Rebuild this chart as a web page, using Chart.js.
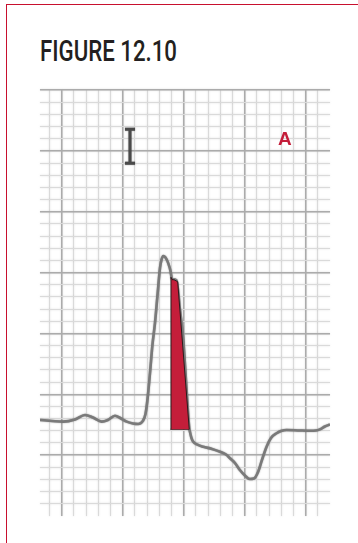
<!DOCTYPE html>
<html>
<head>
<meta charset="utf-8">
<script src="https://cdn.jsdelivr.net/npm/chart.js@4.4.1/dist/chart.umd.min.js"></script>
<style>
html, body { margin: 0; padding: 0; background: #fff; width: 358px; height: 543px; overflow: hidden; }
#frame { position: absolute; left: 6px; top: 4px; width: 360px; height: 560px; border-top: 1.5px solid #c8102e; border-left: 1.5px solid #c8102e; }
#title { position: absolute; left: 40px; top: 36px; font-family: Roboto, "Liberation Sans", sans-serif; font-weight: 500; font-size: 30px; line-height: 30px; color: #231f20; white-space: nowrap; transform-origin: left top; }
#wrap { position: absolute; left: 0; top: 0; width: 358px; height: 543px; }
</style>
</head>
<body>
<div id="frame"></div>
<div id="title"><span id="titleText">FIGURE 12.10</span></div>
<div id="wrap"><canvas id="ecg"></canvas></div>
<script>
// 단위: mm (작은 칸 = 1mm, 큰 칸 = 5mm)
let xMin = -1.78;
let xMax = 22.0;
let yMin = 0;
let yMax = 35;

// ECG 파형 (x, y)
let traceX = [-1.78, -0.80, 0.13, 1.09, 1.91, 2.57, 3.28, 3.79, 4.37, 4.86, 5.33, 5.84, 6.28, 6.66, 6.87, 7.03, 7.24, 7.44, 7.65, 7.85, 8.06, 8.18, 8.33, 8.51, 8.74, 8.92, 9.02, 9.10, 9.20, 9.42, 9.70, 9.97, 10.19, 10.46, 10.52, 10.64, 10.79, 11.09, 11.61, 12.32, 12.98, 13.47, 13.80, 14.21, 14.61, 15.02, 15.43, 15.76, 16.11, 16.42, 16.80, 17.16, 17.62, 17.98, 18.44, 19.53, 20.35, 20.84, 21.17, 21.58, 22.0];
let traceY = [7.89, 7.81, 7.75, 7.93, 8.30, 8.09, 7.75, 7.89, 8.24, 8.01, 7.75, 7.60, 7.56, 7.81, 8.38, 9.53, 11.75, 14.05, 15.86, 18.08, 20.38, 21.04, 21.36, 21.24, 20.76, 20.13, 19.53, 19.39, 19.44, 19.35, 16.93, 14.46, 11.18, 7.21, 6.90, 6.41, 6.10, 5.88, 5.69, 5.51, 5.28, 5.05, 4.74, 4.35, 3.78, 3.33, 3.04, 3.08, 3.64, 4.60, 5.69, 6.41, 6.80, 6.98, 7.07, 7.03, 7.01, 7.03, 7.12, 7.35, 7.52];

// 빨간 영역 (하강 구간) - 윗변, 아랫변
let areaX = [8.93, 8.96, 9.10, 9.20, 9.51, 10.46];
let areaY = [7.12, 19.61, 19.39, 19.42, 19.25, 7.12];
let areaBase = 7.12;
let areaBottomX = [8.93, 10.46];
let areaBottomY = [7.12, 7.12];

// 보정 표시 (I 모양)
let calX = [5.19, 6.01, null, 5.60, 5.60, null, 5.19, 6.01];
let calY = [31.78, 31.78, null, 31.78, 28.98, null, 28.98, 28.98];

// 라벨
let labelText = "A";
let labelX = 18.30;
let labelY = 30.48;

function toPoints(xs, ys) {
    let pts = [];
    for (let i = 0; i < xs.length; i++) {
        pts.push({ x: xs[i] === null ? NaN : xs[i], y: ys[i] });
    }
    return pts;
}

// 제목 폭 맞추기
let t = document.getElementById("titleText");
let w = t.getBoundingClientRect().width;
document.getElementById("title").style.transform = "scaleX(" + (137 / w) + ")";

function soft(ctx, color, blur) {
    ctx.shadowColor = color;
    ctx.shadowBlur = blur;
    ctx.shadowOffsetX = 0;
    ctx.shadowOffsetY = 0;
}

let softPlugin = {
    id: "soft",
    beforeDraw(chart) { soft(chart.ctx, "rgba(180,180,180,0.6)", 1.5); },
    beforeDatasetsDraw(chart) { soft(chart.ctx, "rgba(0,0,0,0)", 0); },
    beforeDatasetDraw(chart, args) {
        if (args.meta.index === 2) soft(chart.ctx, "rgba(100,100,100,0.7)", 1.5);
        else if (args.meta.index === 3) soft(chart.ctx, "rgba(60,60,60,0.6)", 1.5);
        else soft(chart.ctx, "rgba(0,0,0,0)", 0);
    },
    afterDatasetDraw(chart) { soft(chart.ctx, "rgba(0,0,0,0)", 0); },
    afterDraw(chart) {
        let ctx = chart.ctx;
        ctx.save();
        soft(ctx, "rgba(0,0,0,0)", 0);
        ctx.fillStyle = "#c41e3a";
        ctx.font = "bold 19px 'Liberation Sans', Arial, sans-serif";
        ctx.textAlign = "center";
        ctx.textBaseline = "alphabetic";
        ctx.fillText(labelText, chart.scales.x.getPixelForValue(labelX), chart.scales.y.getPixelForValue(labelY));
        ctx.restore();
    }
};

function intTicks(lo, hi) {
    return function (scale) {
        let arr = [];
        for (let v = lo; v <= hi; v++) arr.push({ value: v });
        scale.ticks = arr;
    };
}

function gridOpts() {
    return {
        color: c => (c.tick && c.tick.value % 5 === 0) ? "#ababab" : "#dadada",
        lineWidth: c => (c.tick && c.tick.value % 5 === 0) ? 1.5 : 1,
        drawTicks: false
    };
}

new Chart(document.getElementById("ecg"), {
    type: "line",
    data: {
        datasets: [
            {
                data: toPoints(areaX, areaY),
                borderColor: "#2b1a1c",
                borderWidth: 1,
                backgroundColor: "#c41e3a",
                fill: { value: areaBase },
                pointRadius: 0,
                tension: 0
            },
            {
                data: toPoints(areaBottomX, areaBottomY),
                borderColor: "#2b1a1c",
                borderWidth: 1,
                pointRadius: 0,
                fill: false,
                tension: 0
            },
            {
                data: toPoints(traceX, traceY),
                borderColor: "#7a7a7a",
                borderWidth: 2.6,
                pointRadius: 0,
                fill: false,
                cubicInterpolationMode: "monotone"
            },
            {
                data: toPoints(calX, calY),
                borderColor: "#4a4a4a",
                borderWidth: 3,
                pointRadius: 0,
                fill: false,
                spanGaps: false,
                tension: 0
            }
        ]
    },
    options: {
        responsive: true,
        maintainAspectRatio: false,
        animation: false,
        events: [],
        layout: { padding: { left: 40, right: 28, top: 90, bottom: 27 } },
        plugins: { legend: { display: false }, tooltip: { enabled: false } },
        scales: {
            x: {
                type: "linear",
                min: xMin,
                max: xMax,
                afterBuildTicks: intTicks(-1, 21),
                afterFit: s => { s.height = 0; },
                ticks: { display: false },
                grid: gridOpts(),
                border: { display: false }
            },
            y: {
                type: "linear",
                min: yMin,
                max: yMax,
                afterBuildTicks: intTicks(1, 35),
                afterFit: s => { s.width = 0; },
                ticks: { display: false },
                grid: gridOpts(),
                border: { display: false }
            }
        }
    },
    plugins: [softPlugin]
});
</script>
</body>
</html>
